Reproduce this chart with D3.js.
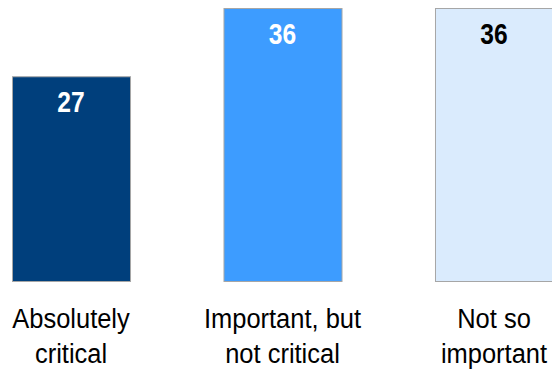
<!DOCTYPE html>
<html>
<head>
<meta charset="utf-8">
<script src="https://cdn.jsdelivr.net/npm/d3@7"></script>
<style>
  html, body { margin: 0; padding: 0; background: #fff; }
  svg { display: block; }
</style>
</head>
<body>
<div id="chart"></div>
<script>
const categories = [['Absolutely', 'critical'], ['Important, but', 'not critical'], ['Not so', 'important']];
const values = [27, 36, 36];
const barColors = ['#003F7C', '#3D9CFF', '#DAEBFD'];
const labelColors = ['#ffffff', '#ffffff', '#000000'];

(function drawChart() {
    const width = 552, height = 370;
    const font = '"Liberation Sans", Arial, sans-serif';
    const svg = d3.select('#chart')
        .append('svg')
        .attr('width', width)
        .attr('height', height);

    const x = d3.scaleBand()
        .domain(d3.range(values.length))
        .range([12, 553])
        .paddingInner(0.442)
        .paddingOuter(0);

    const y = d3.scaleLinear()
        .domain([0, 36])
        .range([281, 8]);

    svg.selectAll('rect.bar')
        .data(values)
        .enter()
        .append('rect')
        .attr('class', 'bar')
        .attr('x', (d, i) => x(i) + 0.5)
        .attr('y', d => y(d) + 0.5)
        .attr('width', x.bandwidth())
        .attr('height', d => y(0) - y(d))
        .attr('fill', (d, i) => barColors[i])
        .attr('stroke', '#a6a6a6')
        .attr('stroke-width', 1);

    // condensed look: squeeze the text horizontally
    svg.selectAll('g.value')
        .data(values)
        .enter()
        .append('g')
        .attr('class', 'value')
        .attr('transform', (d, i) => `translate(${x(i) + x.bandwidth() / 2},${y(d) + 36}) scale(0.82,1)`)
        .append('text')
        .attr('text-anchor', 'middle')
        .style('font-family', font)
        .style('font-weight', 'bold')
        .style('font-size', '30px')
        .attr('fill', (d, i) => labelColors[i])
        .text(d => d);

    const labels = svg.selectAll('g.cat')
        .data(categories)
        .enter()
        .append('g')
        .attr('class', 'cat')
        .attr('transform', (d, i) => `translate(${x(i) + x.bandwidth() / 2},328) scale(0.91,1)`)
        .append('text')
        .attr('text-anchor', 'middle')
        .style('font-family', font)
        .style('font-size', '28px')
        .attr('fill', '#000');

    labels.selectAll('tspan')
        .data(d => d)
        .enter()
        .append('tspan')
        .attr('x', 0)
        .attr('y', (t, j) => j * 35)
        .text(t => t);
})();
</script>
</body>
</html>
